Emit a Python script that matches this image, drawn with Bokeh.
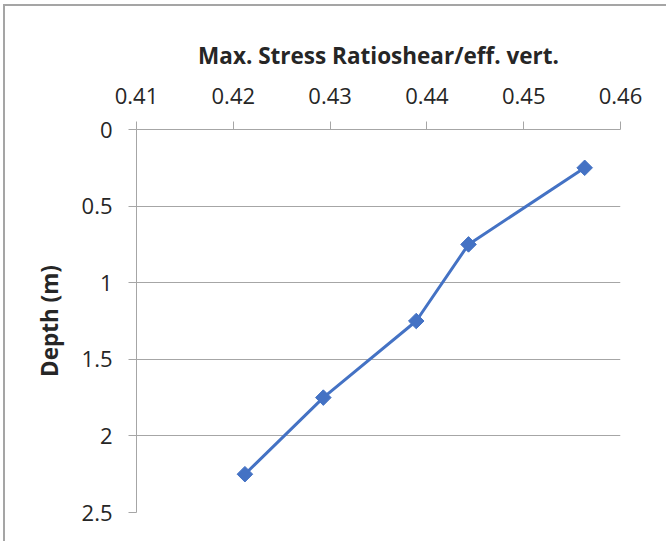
from bokeh.plotting import figure
from bokeh.models import Range1d, FixedTicker
from bokeh.embed import file_html
from bokeh.resources import INLINE

# Data
stress_ratio = [0.4212, 0.4293, 0.4389, 0.4443, 0.4563]
depth_m = [2.25, 1.75, 1.25, 0.75, 0.25]

x_ticks = [0.41, 0.42, 0.43, 0.44, 0.45, 0.46]
x_tick_labels = ["0.41", "0.42", "0.43", "0.44", "0.45", "0.46"]
y_ticks = [0, 0.5, 1, 1.5, 2, 2.5]
y_tick_labels = ["0", "0.5", "1", "1.5", "2", "2.5"]

x_title = "Max. Stress Ratioshear/eff. vert."
y_title = "Depth (m)"

FONT = "Open Sans"
AXIS_GRAY = "#a6a6a6"
TEXT = "#262626"
BLUE = "#4472c4"

p = figure(
    output_backend="svg",
    toolbar_location=None,
    x_axis_location="above",
    x_range=Range1d(x_ticks[0], x_ticks[-1]),
    y_range=Range1d(y_ticks[-1], y_ticks[0]),
    frame_width=484,
    frame_height=383,
    min_border_left=131,
    min_border_top=123,
    min_border_right=46,
    min_border_bottom=29,
    background_fill_color="white",
    border_fill_color="white",
)
p.outline_line_color = None
p.styles = {
    "border-left": "2px solid #a5a5a5",
    "border-top": "2px solid #a5a5a5",
    "margin-left": "3px",
    "margin-top": "4px",
}

# Axes
xa = p.xaxis[0]
xa.ticker = FixedTicker(ticks=x_ticks)
xa.major_label_overrides = {t: l for t, l in zip(x_ticks, x_tick_labels)}
ya = p.yaxis[0]
ya.ticker = FixedTicker(ticks=y_ticks)
ya.major_label_overrides = {t: l for t, l in zip(y_ticks, y_tick_labels)}

for ax in (xa, ya):
    ax.axis_line_color = AXIS_GRAY
    ax.axis_line_width = 1
    ax.major_tick_line_color = AXIS_GRAY
    ax.major_tick_in = 0
    ax.major_tick_out = 8
    ax.minor_tick_line_color = None
    ax.major_label_text_font = FONT
    ax.major_label_text_font_size = "22px"
    ax.major_label_text_color = TEXT
    ax.axis_label_text_font = FONT
    ax.axis_label_text_font_size = "22.5px"
    ax.axis_label_text_font_style = "bold"
    ax.axis_label_text_color = TEXT

xa.axis_label = x_title
ya.axis_label = y_title
xa.major_label_standoff = 18
xa.axis_label_standoff = 14
ya.major_label_standoff = 16
ya.axis_label_standoff = 14

p.xgrid.grid_line_color = None
p.ygrid.ticker = FixedTicker(ticks=y_ticks)
p.ygrid.grid_line_color = AXIS_GRAY
p.ygrid.grid_line_width = 1

p.line(stress_ratio, depth_m, line_color=BLUE, line_width=3)
p.scatter(stress_ratio, depth_m, marker="square", angle=0.785398,
          size=11, fill_color=BLUE, line_color=BLUE)

open("out.html", "w").write(file_html(p, INLINE))
